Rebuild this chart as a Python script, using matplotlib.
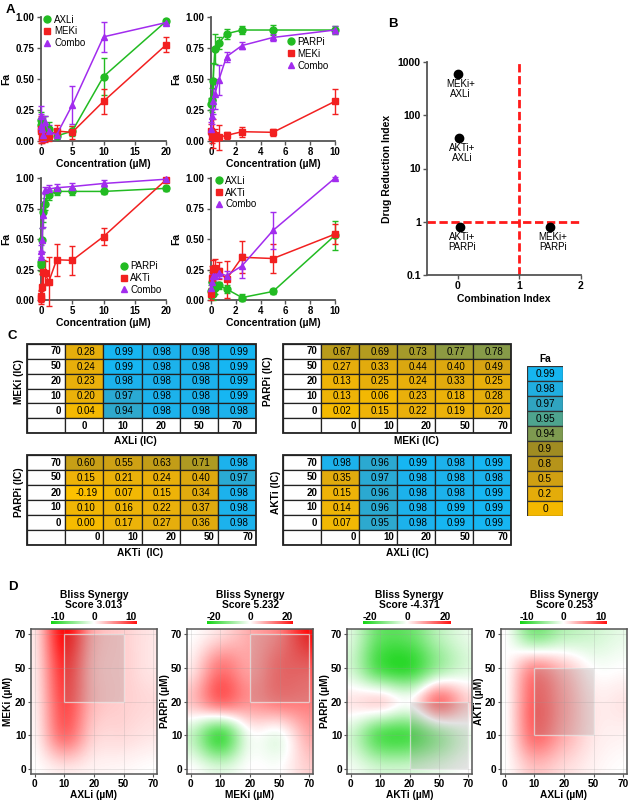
import numpy as np
import matplotlib
matplotlib.use('Agg')
import matplotlib.pyplot as plt
from matplotlib.colors import LinearSegmentedColormap, Normalize, to_rgb
from matplotlib.patches import Rectangle
from matplotlib.lines import Line2D
import matplotlib.colorbar as mcolorbar

plt.rcParams['font.family'] = ['Liberation Sans', 'DejaVu Sans']

# ---------------- DATA ----------------
conc20 = [0.039, 0.078, 0.156, 0.3125, 0.625, 1.25, 2.5, 5, 10, 20]
conc10 = [0.039, 0.078, 0.156, 0.3125, 0.625, 1.25, 2.5, 5, 10]

# A1: AXLi / MEKi / Combo
a1_axl = [0.13, 0.17, 0.15, 0.05, 0.12, 0.10, 0.04, 0.08, 0.52, 0.965]
a1_axl_err = [0.05, 0.06, 0.05, 0.03, 0.08, 0.05, 0.02, 0.04, 0.15, 0.02]
a1_mek = [0.08, 0.10, 0.03, 0.05, 0.04, 0.04, 0.08, 0.07, 0.32, 0.775]
a1_mek_err = [0.10, 0.10, 0.05, 0.05, 0.05, 0.04, 0.05, 0.05, 0.10, 0.06]
a1_combo = [0.20, 0.12, 0.10, 0.05, 0.15, 0.08, 0.05, 0.29, 0.84, 0.955]
a1_combo_err = [0.08, 0.10, 0.05, 0.05, 0.05, 0.05, 0.03, 0.15, 0.12, 0.02]

# A2: PARPi / MEKi / Combo
a2_parp = [0.30, 0.33, 0.48, 0.74, 0.79, 0.865, 0.895, 0.895, 0.895]
a2_parp_err = [0.05, 0.10, 0.15, 0.12, 0.05, 0.04, 0.03, 0.04, 0.03]
a2_mek = [0.08, 0.03, 0.06, 0.05, 0.03, 0.045, 0.075, 0.07, 0.32]
a2_mek_err = [0.06, 0.05, 0.12, 0.05, 0.10, 0.03, 0.04, 0.03, 0.10]
a2_combo = [0.10, 0.20, 0.32, 0.38, 0.49, 0.68, 0.77, 0.835, 0.895]
a2_combo_err = [0.05, 0.06, 0.10, 0.12, 0.12, 0.04, 0.03, 0.03, 0.03]

# A3: PARPi / AKTi / Combo
a3_parp = [0.31, 0.29, 0.49, 0.72, 0.79, 0.86, 0.89, 0.89, 0.89, 0.915]
a3_parp_err = [0.03, 0.05, 0.10, 0.08, 0.05, 0.04, 0.03, 0.03, 0.02, 0.02]
a3_akt = [0.02, 0.03, 0.11, 0.23, 0.22, 0.15, 0.33, 0.325, 0.52, 0.985]
a3_akt_err = [0.05, 0.05, 0.10, 0.10, 0.10, 0.20, 0.13, 0.12, 0.07, 0.01]
a3_combo = [0.35, 0.40, 0.49, 0.70, 0.90, 0.91, 0.92, 0.93, 0.955, 0.99]
a3_combo_err = [0.05, 0.05, 0.10, 0.10, 0.03, 0.03, 0.03, 0.03, 0.03, 0.01]

# A4: AXLi / AKTi / Combo
a4_axl = [0.07, 0.15, 0.05, 0.10, 0.12, 0.09, 0.02, 0.07, 0.53]
a4_axl_err = [0.05, 0.08, 0.05, 0.05, 0.03, 0.03, 0.03, 0.02, 0.12]
a4_akt = [0.05, 0.18, 0.25, 0.26, 0.24, 0.17, 0.35, 0.34, 0.54]
a4_akt_err = [0.05, 0.10, 0.08, 0.08, 0.07, 0.15, 0.13, 0.12, 0.08]
a4_combo = [0.10, 0.15, 0.20, 0.20, 0.22, 0.20, 0.28, 0.57, 1.0]
a4_combo_err = [0.05, 0.06, 0.05, 0.05, 0.04, 0.04, 0.10, 0.15, 0.01]

# B: combination index vs drug reduction index
b_ci = [0.0, 0.02, 0.03, 1.5]
b_dri = [600, 38, 0.8, 0.8]
b_labels = ["MEKi+\nAXLi", "AKTi+\nAXLi", "AKTi+\nPARPi", "MEKi+\nPARPi"]

# C: Fa tables (rows top->bottom = 70, 50, 20, 10, 0)
ic_rows = ["70", "50", "20", "10", "0"]
ic_cols = ["0", "10", "20", "50", "70"]
t_mek_axl = [[0.28, 0.99, 0.98, 0.98, 0.99],
             [0.24, 0.99, 0.98, 0.98, 0.99],
             [0.23, 0.98, 0.98, 0.98, 0.99],
             [0.20, 0.97, 0.98, 0.98, 0.99],
             [0.04, 0.94, 0.98, 0.98, 0.98]]
t_parp_mek = [[0.67, 0.69, 0.73, 0.77, 0.78],
              [0.27, 0.33, 0.44, 0.40, 0.49],
              [0.13, 0.25, 0.24, 0.33, 0.25],
              [0.13, 0.06, 0.23, 0.18, 0.28],
              [0.02, 0.15, 0.22, 0.19, 0.20]]
t_parp_akt = [[0.60, 0.55, 0.63, 0.71, 0.98],
              [0.15, 0.21, 0.24, 0.40, 0.97],
              [-0.19, 0.07, 0.15, 0.34, 0.98],
              [0.10, 0.16, 0.22, 0.37, 0.98],
              [0.00, 0.17, 0.27, 0.36, 0.98]]
t_akt_axl = [[0.98, 0.96, 0.99, 0.98, 0.99],
             [0.35, 0.97, 0.98, 0.98, 0.98],
             [0.15, 0.96, 0.98, 0.98, 0.99],
             [0.14, 0.96, 0.98, 0.99, 0.99],
             [0.07, 0.95, 0.98, 0.99, 0.99]]
fa_legend_vals = ["0.99", "0.98", "0.97", "0.95", "0.94", "0.9", "0.8", "0.5", "0.2", "0"]

# D: Bliss synergy grids (rows bottom->top = 0, 10, 20, 50, 70 ; cols 0,10,20,50,70)
dose_ticks = ["0", "10", "20", "50", "70"]
d1_grid = [[0, 1, 0.5, 0.3, 0],
           [0.5, 6, 2, 1.5, 1],
           [0.8, 7.5, 3, 2, 1.5],
           [1, 8.5, 3, 2, 1],
           [1.2, 10, 3.5, 2, 1]]
d2_grid = [[0, -3, 0, 0, 4],
           [-5, -15, -1, -1, 7],
           [5, 12, 9, 11, 11],
           [2, 11, 8, 13, 14],
           [0, 3, 7, 11, 20]]
d3_grid = [[-1, -4, -4, -2, 0],
           [-4, -14, -15, -8, -2],
           [2, 3, 0, 11, 4],
           [-4, -15, -17, -8, -3],
           [-3, -13, -13, -6, -2]]
d4_grid = [[0, 2.5, 1.5, 0.5, 0],
           [0, 6, 3.5, 1, 0.5],
           [0, 6.5, 4, 1, 1],
           [0, 4.5, 2.5, 0, 0],
           [0, -5, -3, -2, -1]]
d_scores = ["3.013", "5.232", "-4.371", "0.253"]

# ---------------- FIGURE ----------------
W, H = 632, 801
fig = plt.figure(figsize=(W / 100, H / 100), dpi=100)


def add_ax(l, t, r, b):
    return fig.add_axes([l / W, 1 - b / H, (r - l) / W, (b - t) / H])


GREEN = '#22bb22'
RED = '#f22020'
PURPLE = '#a22cee'
SPINE = '#555555'


def style_axes(ax):
    for s in ['top', 'right']:
        ax.spines[s].set_visible(False)
    for s in ['left', 'bottom']:
        ax.spines[s].set_color(SPINE)
        ax.spines[s].set_linewidth(1.3)
    ax.tick_params(direction='out', length=3, width=1, color=SPINE, labelsize=7, pad=1.5)
    for lab in ax.get_xticklabels() + ax.get_yticklabels():
        lab.set_fontweight('bold')


def dose_panel(ax, conc, series, xmax, xticks, leg_anchor):
    handles = []
    for label, y, e, color, marker in series:
        ax.errorbar(conc, y, yerr=e, color=color, marker=marker, ms=5, lw=1.1,
                    elinewidth=1, capsize=2.2, capthick=1, clip_on=False, zorder=3)
        handles.append(Line2D([], [], color=color, marker=marker, ls='none', ms=5, label=label))
    ax.set_xlim(0, xmax)
    ax.set_ylim(0, 1)
    ax.set_xticks(xticks)
    ax.set_yticks([0, 0.25, 0.5, 0.75, 1.0])
    ax.set_yticklabels(["0.00", "0.25", "0.50", "0.75", "1.00"])
    ax.set_xlabel("Concentration (µM)", fontsize=7.5, fontweight='bold', labelpad=1)
    ax.set_ylabel("Fa", fontsize=7.5, fontweight='bold', labelpad=3)
    style_axes(ax)
    ax.legend(handles=handles, loc='upper left', bbox_to_anchor=leg_anchor, frameon=False,
              fontsize=7, handlelength=0.8, handletextpad=0.3, labelspacing=0.2,
              borderpad=0, borderaxespad=0)


ax1 = add_ax(41, 17, 166, 141)
dose_panel(ax1, conc20, [("AXLi", a1_axl, a1_axl_err, GREEN, 'o'),
                         ("MEKi", a1_mek, a1_mek_err, RED, 's'),
                         ("Combo", a1_combo, a1_combo_err, PURPLE, '^')],
           20, [0, 5, 10, 15, 20], (0.02, 1.02))
ax2 = add_ax(211, 17, 335, 141)
dose_panel(ax2, conc10, [("PARPi", a2_parp, a2_parp_err, GREEN, 'o'),
                         ("MEKi", a2_mek, a2_mek_err, RED, 's'),
                         ("Combo", a2_combo, a2_combo_err, PURPLE, '^')],
           10, [0, 2, 4, 6, 8, 10], (0.61, 0.84))
ax3 = add_ax(41, 178, 166, 300)
dose_panel(ax3, conc20, [("PARPi", a3_parp, a3_parp_err, GREEN, 'o'),
                         ("AKTi", a3_akt, a3_akt_err, RED, 's'),
                         ("Combo", a3_combo, a3_combo_err, PURPLE, '^')],
           20, [0, 5, 10, 15, 20], (0.63, 0.32))
ax4 = add_ax(211, 178, 335, 300)
dose_panel(ax4, conc10, [("AXLi", a4_axl, a4_axl_err, GREEN, 'o'),
                         ("AKTi", a4_akt, a4_akt_err, RED, 's'),
                         ("Combo", a4_combo, a4_combo_err, PURPLE, '^')],
           10, [0, 2, 4, 6, 8, 10], (0.03, 1.02))

# ---------------- B ----------------
axB = add_ax(427, 62, 581, 275)
axB.set_yscale('log')
axB.set_xlim(-0.5, 2)
axB.set_ylim(0.1, 1000)
axB.axhline(1, color='#ff1a1a', lw=2, ls=(0, (3, 1.3)), zorder=1)
axB.plot([1, 1], [0.1, 950], color='#ff1a1a', lw=2, ls=(0, (3, 1.3)), zorder=1)
axB.plot(b_ci, b_dri, 'o', color='black', ms=6, zorder=3)
for x, y, lab in zip(b_ci, b_dri, b_labels):
    axB.annotate(lab, (x, y), xytext=(2, -4), textcoords='offset points', ha='center',
                 va='top', fontsize=7, linespacing=0.95)
axB.set_xticks([0, 1, 2])
axB.set_yticks([0.1, 1, 10, 100, 1000])
axB.set_yticklabels(["0.1", "1", "10", "100", "1000"])
axB.minorticks_off()
axB.set_xlabel("Combination Index", fontsize=7.5, fontweight='bold', labelpad=2)
axB.set_ylabel("Drug Reduction Index", fontsize=7.5, fontweight='bold', labelpad=4)
style_axes(axB)
axB.tick_params(labelsize=7.5)

# ---------------- C ----------------
cell_anchor_v = [-0.2, 0.0, 0.2, 0.5, 0.65, 0.72, 0.78, 0.94, 0.97, 0.98, 0.99]
cell_anchor_c = ['#fdc000', '#f6bb00', '#ebb10a', '#d6a412', '#bf9c18', '#ab9a24',
                 '#869a48', '#2ea8cc', '#2aaad4', '#1cb2ec', '#16b6f2']
cell_rgb = np.array([to_rgb(c) for c in cell_anchor_c])


def cell_color(v):
    return tuple(np.interp(v, cell_anchor_v, cell_rgb[:, k]) for k in range(3))


def draw_table(box, values, xlabel, ylabel, col_ha, xlab_x, ylab_x):
    ax = add_ax(*box)
    ax.set_xlim(0, 6)
    ax.set_ylim(0, 6)
    ax.axis('off')
    for i, row in enumerate(values):
        yb = 5 - i
        ax.add_patch(Rectangle((0, yb), 1, 1, facecolor='white', edgecolor='#222222', lw=0.9))
        ax.text(0.9, yb + 0.5, ic_rows[i], ha='right', va='center', fontsize=7, fontweight='bold')
        for j, v in enumerate(row):
            ax.add_patch(Rectangle((j + 1, yb), 1, 1, facecolor=cell_color(v),
                                   edgecolor='#222222', lw=0.9))
            ax.text(j + 1.55, yb + 0.48, f"{v:.2f}", ha='center', va='center', fontsize=7)
    ax.add_patch(Rectangle((0, 0), 1, 1, facecolor='white', edgecolor='#222222', lw=0.9))
    for j, lab in enumerate(ic_cols):
        ax.add_patch(Rectangle((j + 1, 0), 1, 1, facecolor='white', edgecolor='#222222', lw=0.9))
        if col_ha == 'center':
            ax.text(j + 1.5, 0.5, lab, ha='center', va='center', fontsize=7, fontweight='bold')
        else:
            ax.text(j + 1.92, 0.5, lab, ha='right', va='center', fontsize=7, fontweight='bold')
    ax.add_patch(Rectangle((0, 0), 6, 6, facecolor='none', edgecolor='#222222', lw=1.3, clip_on=False))
    ax.text(xlab_x, -0.55, xlabel, ha='center', va='center', fontsize=7.3, fontweight='bold')
    ax.text(ylab_x, 3.5, ylabel, ha='center', va='center', rotation=90, fontsize=7.3,
            fontweight='bold')


draw_table((27, 344, 256, 433), t_mek_axl, "AXLi (IC)", "MEKi (IC)", 'center', 2.83, -0.2)
draw_table((283, 344, 511, 433), t_parp_mek, "MEKi (IC)", "PARPi (IC)", 'right', 3.5, -0.4)
draw_table((27, 455, 256, 545), t_parp_akt, "AKTi  (IC)", "PARPi (IC)", 'right', 2.96, -0.2)
draw_table((283, 455, 511, 545), t_akt_axl, "AXLi (IC)", "AKTi (IC)", 'right', 3.26, -0.18)

# Fa legend
leg_colors = ['#16b6f0', '#20aee0', '#30a4c0', '#4ea48e', '#7e9a50', '#a08c22',
              '#b6941a', '#d0a012', '#e4ac0a', '#f4b800']
axL = add_ax(527, 366, 563, 516)
axL.set_xlim(0, 1)
axL.set_ylim(0, len(fa_legend_vals))
axL.axis('off')
for i, lab in enumerate(fa_legend_vals):
    yb = len(fa_legend_vals) - 1 - i
    axL.add_patch(Rectangle((0, yb), 1, 1, facecolor=leg_colors[i], edgecolor='#333333', lw=0.9))
    axL.text(0.5, yb + 0.48, lab, ha='center', va='center', fontsize=7.3)
axL.text(0.5, 10.15, "Fa", ha='center', va='bottom', fontsize=7.3, fontweight='bold')

# ---------------- D ----------------
syn_cmap = LinearSegmentedColormap.from_list('syn', ['#14d414', '#ffffff', '#ff1010'])


def synergy_panel(l, r, cb_l, cb_r, grid, vmax, box, xlabel, ylabel, score):
    ax = add_ax(l, 629, r, 774)
    g = np.array(grid, dtype=float)
    ax.imshow(g, origin='lower', cmap=syn_cmap, vmin=-vmax, vmax=vmax,
              interpolation='catrom', interpolation_stage='data',
              extent=(-0.5, 4.5, -0.5, 4.5), aspect='auto')
    xs = np.arange(5)
    ax.set_xlim(-0.12, 4.12)
    ax.set_ylim(-0.14, 4.14)
    ax.set_xticks(xs)
    ax.set_yticks(xs)
    ax.set_xticklabels(dose_ticks)
    ax.set_yticklabels(dose_ticks)
    ax.grid(color='#999999', lw=0.5, alpha=0.3)
    ax.add_patch(Rectangle((box[0], box[1]), box[2] - box[0], box[3] - box[1],
                           facecolor='#808080', alpha=0.22, edgecolor='none'))
    ax.add_patch(Rectangle((box[0], box[1]), box[2] - box[0], box[3] - box[1],
                           facecolor='none', edgecolor='white', lw=0.9, alpha=0.7))
    for s in ax.spines.values():
        s.set_color('#555555')
        s.set_linewidth(1.1)
    ax.tick_params(length=2, width=0.8, color='#555555', labelsize=7.3, pad=1.5)
    for lab in ax.get_xticklabels() + ax.get_yticklabels():
        lab.set_fontweight('bold')
    ax.set_xlabel(xlabel, fontsize=7.3, fontweight='bold', labelpad=1)
    ax.set_ylabel(ylabel, fontsize=7.3, fontweight='bold', labelpad=1)
    # colorbar
    cax = add_ax(cb_l, 621, cb_r, 624)
    cb = mcolorbar.ColorbarBase(cax, cmap=syn_cmap, norm=Normalize(-vmax, vmax),
                                orientation='horizontal')
    cb.outline.set_visible(False)
    cax.set_xticks([])
    for fx, t in [(0.08, f"-{vmax}"), (0.5, "0"), (0.93, f"{vmax}")]:
        cax.text(fx, 2.3, t, transform=cax.transAxes, ha='center', va='center',
                 fontsize=7.3, fontweight='bold')
    fig.text(((l + r) / 2) / W, 1 - 600 / H, "Bliss Synergy\nScore " + score,
             ha='center', va='center', fontsize=7.4, fontweight='bold', linespacing=1.05)


synergy_panel(31, 157, 51, 137, d1_grid, 10, (1, 2, 3, 4), "AXLi (µM)", "MEKi (µM)", d_scores[0])
synergy_panel(187, 313, 207, 293, d2_grid, 20, (2, 2, 4, 4), "MEKi (µM)", "PARPi (µM)", d_scores[1])
synergy_panel(347, 472, 363, 451, d3_grid, 20, (2, 0, 4, 2), "AKTi (µM)", "PARPi (µM)", d_scores[2])
synergy_panel(501, 627, 520, 607, d4_grid, 10, (1, 1, 3, 3), "AXLi (µM)", "AKTi (µM)", d_scores[3])

# panel letters
for x, y, t in [(6, 10, "A"), (388, 24, "B"), (8, 336, "C"), (8, 587, "D")]:
    fig.text(x / W, 1 - y / H, t, fontsize=9.5, fontweight='bold', ha='left', va='center')

fig.savefig("out.png", dpi=100)
